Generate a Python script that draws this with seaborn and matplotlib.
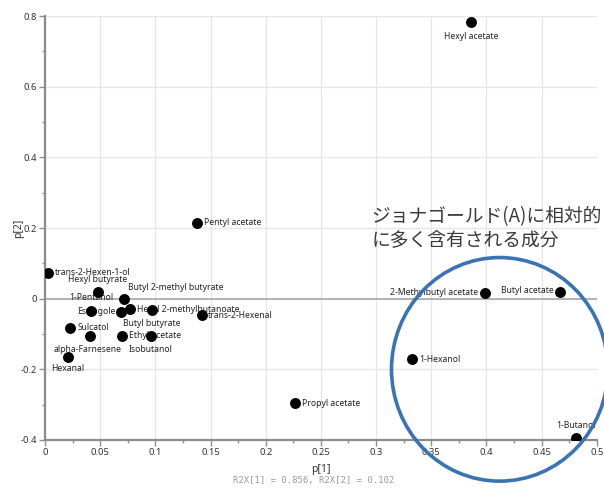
import matplotlib
matplotlib.use("Agg")
import matplotlib.pyplot as plt
import numpy as np
import pandas as pd
import seaborn as sns
from matplotlib.patches import Ellipse

# loadings p[1] / p[2]
compounds = [
    "Hexyl acetate", "Pentyl acetate", "trans-2-Hexen-1-ol", "Hexyl butyrate",
    "Butyl 2-methyl butyrate", "1-Pentanol", "Estragole", "Hexyl 2-methylbutanoate",
    "Butyl butyrate", "trans-2-Hexenal", "Sulcatol", "alpha-Farnesene",
    "Ethyl acetate", "Isobutanol", "Hexanal", "Propyl acetate",
    "2-Methylbutyl acetate", "Butyl acetate", "1-Hexanol", "1-Butanol",
]
p1 = [0.386, 0.138, 0.003, 0.048, 0.072, 0.042, 0.069, 0.077, 0.097, 0.142,
      0.023, 0.041, 0.070, 0.096, 0.021, 0.227, 0.399, 0.467, 0.333, 0.481]
p2 = [0.782, 0.215, 0.073, 0.020, 0.000, -0.034, -0.037, -0.028, -0.031, -0.045,
      -0.082, -0.107, -0.105, -0.105, -0.164, -0.294, 0.017, 0.020, -0.172, -0.393]

x_ticks = [0, 0.05, 0.1, 0.15, 0.2, 0.25, 0.3, 0.35, 0.4, 0.45, 0.5]
x_tick_labels = ["0", "0.05", "0.1", "0.15", "0.2", "0.25", "0.3", "0.35", "0.4", "0.45", "0.5"]
y_ticks = [-0.4, -0.2, 0, 0.2, 0.4, 0.6, 0.8]
y_tick_labels = ["-0.4", "-0.2", "0", "0.2", "0.4", "0.6", "0.8"]

note = "ジョナゴールド(A)に相対的\nに多く含有される成分"
footer = "R2X[1] = 0.856, R2X[2] = 0.102"

# label placement (offset in pixels, horizontal alignment)
label_pos = {
    "Hexyl acetate": ((0, -14), "center"),
    "Pentyl acetate": ((7, 0), "left"),
    "trans-2-Hexen-1-ol": ((7, 0), "left"),
    "Hexyl butyrate": ((0, 12), "center"),
    "Butyl 2-methyl butyrate": ((4, 11), "left"),
    "1-Pentanol": ((0, 13), "center"),
    "Estragole": ((-6, 0), "right"),
    "Hexyl 2-methylbutanoate": ((7, -1), "left"),
    "Butyl butyrate": ((0, -14), "center"),
    "trans-2-Hexenal": ((6, -1), "left"),
    "Sulcatol": ((7, 0), "left"),
    "alpha-Farnesene": ((-3, -13), "center"),
    "Ethyl acetate": ((7, 0), "left"),
    "Isobutanol": ((0, -14), "center"),
    "Hexanal": ((0, -12), "center"),
    "Propyl acetate": ((7, -1), "left"),
    "2-Methylbutyl acetate": ((-7, 0), "right"),
    "Butyl acetate": ((-7, 1), "right"),
    "1-Hexanol": ((7, 0), "left"),
    "1-Butanol": ((0, 12), "center"),
}

df = pd.DataFrame({"compound": compounds, "p1": p1, "p2": p2})

sns.set_theme(style="white")
plt.rcParams["font.family"] = ["Noto Sans", "DejaVu Sans"]

fig = plt.figure(figsize=(6.04, 4.88), dpi=100)
ax = fig.add_axes([0.0745, 0.0984, 0.9135, 0.8686])

sns.scatterplot(data=df, x="p1", y="p2", ax=ax, color="black", s=62,
                edgecolor="black", linewidth=0, zorder=5, legend=False)

for name, x, y in zip(compounds, p1, p2):
    (dx, dy), ha = label_pos[name]
    ax.annotate(name, (x, y), xytext=(dx, dy), textcoords="offset pixels",
                ha=ha, va="center", fontsize=6.2, color="#222222", zorder=3)

ax.set_xlim(0, 0.5)
ax.set_ylim(-0.4, 0.8)
ax.set_xticks(x_ticks)
ax.set_xticklabels(x_tick_labels)
ax.set_yticks(y_ticks)
ax.set_yticklabels(y_tick_labels)
ax.set_xticks(np.arange(0.025, 0.5, 0.05), minor=True)
ax.set_yticks(np.arange(-0.3, 0.8, 0.2), minor=True)
ax.tick_params(which="major", length=4, width=1, color="#909090",
               labelsize=6.8, labelcolor="#333333", pad=2, direction="out",
               bottom=True, left=True)
ax.tick_params(which="minor", length=2.5, width=1, color="#909090",
               bottom=True, left=True, direction="out")

ax.grid(True, which="major", color="#e6e6e6", linewidth=0.9, zorder=0)
ax.set_axisbelow(True)
ax.axhline(0, color="#a8a8a8", linewidth=1.2, zorder=1)

for side in ["top", "right"]:
    ax.spines[side].set_visible(False)
for side in ["left", "bottom"]:
    ax.spines[side].set_color("#8c8c8c")
    ax.spines[side].set_linewidth(1.6)

ax.set_xlabel("p[1]", fontsize=7.5, color="#333333", labelpad=4.5)
ax.set_ylabel("p[2]", fontsize=7.5, color="#333333", labelpad=-3)

fig.text(0.52, 0.015, footer, ha="center", va="center", fontsize=6.5,
         color="#9a9a9a", family="DejaVu Sans Mono")

ax.add_patch(Ellipse((0.412, -0.20), 0.196, 0.633, fill=False,
                     edgecolor="#3a74b5", linewidth=2.6, clip_on=False, zorder=10))

ax.text(0.296, 0.199, note, ha="left", va="center", fontsize=13.5,
        color="#3a3a3a", linespacing=1.2,
        family=["Noto Sans CJK JP", "DejaVu Sans"], zorder=6)

fig.savefig("out.png", dpi=100, facecolor="white")
